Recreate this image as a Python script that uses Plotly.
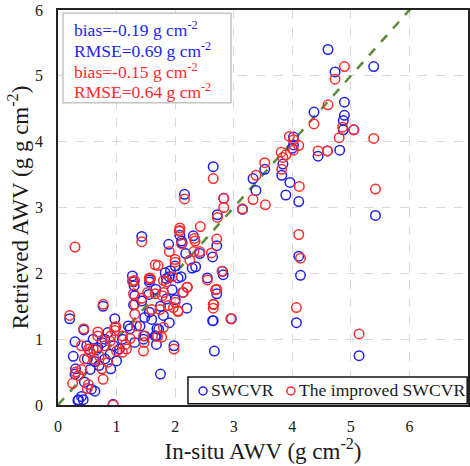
import plotly.graph_objects as go

# SWCVR (blue) points
swcvr_x = [4.61, 4.73, 5.39, 4.89, 4.37, 4.89, 4.87, 4.87, 5.05, 4.81, 4.60, 4.44, 4.02, 4.02, 4.00,
           3.84, 3.82, 3.53, 3.33, 3.38, 3.96, 3.89, 4.11, 5.42, 4.11, 4.14, 4.07, 5.14, 2.65, 2.16,
           2.83, 3.15, 2.72, 2.08, 2.31, 2.71, 1.43, 1.89, 2.11, 2.12, 2.18, 2.42, 2.64, 2.00, 1.92,
           1.83, 2.29, 2.82, 2.81, 1.85, 1.90, 2.05, 2.55, 1.67, 2.13, 1.27, 1.30, 1.56, 2.96, 2.65,
           2.67, 2.71, 2.20, 2.00, 1.85, 1.80, 1.69, 1.68, 1.75, 1.56, 1.29, 1.43, 1.29, 1.56, 1.48,
           1.23, 1.46, 0.77, 0.97, 0.20, 0.44, 0.29, 0.94, 0.34, 0.43, 1.31, 1.55, 0.49, 0.68, 0.66,
           0.80, 0.89, 1.00, 0.26, 0.63, 0.55, 0.29, 0.57, 0.40, 0.35, 0.63, 1.31, 1.48, 1.66, 2.64,
           1.98, 1.68, 1.72, 1.90, 0.60, 0.75, 0.85, 0.70, 0.45, 0.50, 1.10, 1.20, 0.95, 0.30, 0.90,
           0.80, 1.05, 1.40, 1.60, 1.75, 2.10, 2.35, 1.95]
swcvr_y = [5.40, 5.06, 5.14, 4.60, 4.45, 4.40, 4.32, 4.18, 4.18, 3.87, 3.86, 3.78, 4.07, 3.95, 3.90,
           3.66, 3.49, 3.58, 3.44, 3.26, 3.38, 3.19, 3.09, 2.88, 2.26, 1.97, 1.25, 0.75, 3.62, 3.20,
           3.14, 2.97, 2.89, 2.58, 2.57, 2.42, 2.56, 2.44, 2.49, 2.46, 2.30, 2.30, 2.25, 2.11, 2.04,
           2.01, 2.08, 1.98, 2.03, 1.92, 1.95, 1.93, 1.93, 1.76, 1.71, 1.96, 1.81, 1.90, 1.31, 1.28,
           0.82, 1.69, 1.47, 1.60, 1.61, 1.36, 1.16, 1.05, 0.47, 1.87, 1.87, 1.58, 1.52, 1.41, 1.33,
           1.16, 1.00, 1.50, 1.31, 1.31, 1.14, 0.96, 0.01, 0.07, 0.08, 1.66, 1.68, 0.90, 0.87, 0.84,
           1.00, 0.77, 0.67, 0.74, 0.66, 0.54, 0.47, 0.24, 0.13, 0.08, 0.21, 0.95, 1.05, 1.05, 1.28,
           0.90, 0.92, 1.15, 1.25, 1.00, 0.95, 1.10, 0.60, 0.35, 0.70, 1.00, 1.20, 0.90, 0.55, 0.55,
           0.70, 0.85, 1.20, 1.30, 1.50, 1.95, 2.10, 1.75]

# The improved SWCVR (red) points
improved_x = [4.89, 4.73, 4.61, 4.37, 4.86, 5.05, 5.39, 4.80, 4.60, 4.44, 3.95, 4.02, 4.11, 4.02, 3.81,
              3.84, 3.89, 3.82, 3.53, 3.38, 3.33, 3.54, 4.12, 5.42, 4.11, 4.14, 4.07, 5.14, 2.65, 2.16,
              2.83, 2.83, 3.15, 2.72, 2.08, 2.08, 2.43, 2.33, 2.34, 2.71, 1.43, 0.29, 2.11, 1.27, 1.56,
              1.66, 2.07, 1.90, 2.32, 2.42, 2.62, 2.00, 2.00, 1.71, 1.80, 1.85, 1.58, 2.55, 2.21, 2.71,
              2.80, 2.95, 2.69, 2.66, 2.65, 2.05, 2.14, 2.20, 2.00, 1.97, 1.88, 1.80, 1.74, 1.80, 1.56,
              1.31, 1.43, 1.31, 1.31, 1.34, 1.46, 1.47, 0.77, 0.99, 0.20, 0.44, 1.23, 0.94, 0.97, 0.97,
              0.68, 0.68, 0.89, 0.55, 0.52, 1.00, 0.63, 0.40, 0.52, 0.50, 0.77, 1.17, 1.15, 1.46, 1.29,
              1.53, 1.66, 1.78, 1.98, 1.77, 1.70, 2.05, 2.65, 0.30, 0.35, 0.45, 0.80, 0.60, 0.70, 0.90,
              1.10, 0.75, 0.85, 0.40, 0.25, 1.60, 1.95, 2.25, 1.10]
improved_y = [5.14, 4.95, 4.56, 4.27, 4.22, 4.18, 4.05, 4.06, 3.86, 3.86, 4.08, 4.03, 3.94, 3.87, 3.84,
              3.76, 3.80, 3.58, 3.68, 3.49, 3.12, 3.04, 3.32, 3.28, 2.59, 2.23, 1.48, 1.08, 3.44, 3.13,
              3.14, 3.00, 2.98, 2.85, 2.69, 2.65, 2.71, 2.53, 2.49, 2.52, 2.48, 2.40, 2.45, 1.88, 1.93,
              2.13, 2.64, 2.33, 2.33, 2.33, 2.31, 2.21, 2.17, 2.12, 1.89, 1.87, 1.92, 1.90, 1.79, 1.76,
              2.03, 1.31, 1.75, 1.53, 1.47, 1.43, 1.71, 1.79, 1.56, 1.48, 1.51, 1.71, 1.45, 1.18, 1.92,
              1.89, 1.62, 1.53, 1.38, 1.20, 1.05, 0.95, 1.53, 1.19, 1.36, 1.16, 1.01, 0.00, 1.18, 1.13,
              1.11, 1.05, 0.97, 0.80, 0.85, 0.82, 0.69, 0.54, 0.31, 0.25, 0.39, 0.85, 0.92, 0.82, 1.69,
              1.71, 1.69, 1.66, 0.85, 1.03, 1.04, 1.42, 1.53, 0.50, 0.45, 0.70, 0.90, 0.85, 0.75, 1.05,
              1.05, 0.55, 0.65, 0.90, 0.33, 1.45, 1.95, 2.20, 0.80]

series_names = ["SWCVR", "The improved SWCVR"]
stats_lines = ["bias=-0.19 g cm<sup>-2</sup>", "RMSE=0.69 g cm<sup>-2</sup>",
               "bias=-0.15 g cm<sup>-2</sup>", "RMSE=0.64 g cm<sup>-2</sup>"]
x_ticks = [0, 1, 2, 3, 4, 5, 6, 7]
y_ticks = [0, 1, 2, 3, 4, 5, 6]

BLUE = "#1f1fee"
RED = "#ff2a2a"
FONT = "Liberation Serif"
TXT = "#1a1a1a"

fig = go.Figure()

# 1:1 line
fig.add_trace(go.Scatter(x=[0, 7], y=[0, 7], mode="lines",
                         line=dict(color="#5a8a3a", width=2.5, dash="dash"),
                         showlegend=False, hoverinfo="skip"))

for xs, ys, c, n in [(swcvr_x, swcvr_y, BLUE, series_names[0]),
                     (improved_x, improved_y, RED, series_names[1])]:
    fig.add_trace(go.Scatter(x=xs, y=ys, mode="markers", name=n, showlegend=False,
                             marker=dict(symbol="circle-open", size=9.5, color=c,
                                         line=dict(width=1.5, color=c))))

# statistics box
fig.add_shape(type="rect", xref="paper", yref="paper", x0=0.012, x1=0.422, y0=0.765, y1=0.992,
              line=dict(color="#c4c4c4", width=1.5), fillcolor="white", layer="above")
colors = [BLUE, BLUE, RED, RED]
line_y = [0.952, 0.899, 0.846, 0.795]
for t, c, yy in zip(stats_lines, colors, line_y):
    fig.add_annotation(x=0.035, y=yy, xref="paper", yref="paper", xanchor="left", yanchor="middle",
                       text=t, showarrow=False, align="left",
                       font=dict(family=FONT, size=17.5, color=c))

# legend box (drawn by hand to match the compact original)
fig.add_shape(type="rect", xref="paper", yref="paper", x0=0.317, x1=0.998, y0=0.003, y1=0.071,
              line=dict(color="#111111", width=1.5), fillcolor="white", layer="above")
leg_pos = [(0.3537, 0.368), (0.568, 0.582)]
for (cx, tx), c, n in zip(leg_pos, [BLUE, RED], series_names):
    fig.add_shape(type="circle", xref="paper", yref="paper",
                  x0=cx - 0.0098, x1=cx + 0.0098, y0=0.0354 - 0.0101, y1=0.0354 + 0.0101,
                  line=dict(color=c, width=1.5), layer="above")
    fig.add_annotation(x=tx, y=0.037, xref="paper", yref="paper", xanchor="left", yanchor="middle",
                       text=n, showarrow=False, font=dict(family=FONT, size=17.6, color=TXT))

axis_common = dict(showgrid=True, gridcolor="#d9d9d9", griddash="dash", gridwidth=1,
                   zeroline=False, showline=True, linecolor="#222222", linewidth=1.5,
                   mirror=True, ticks="outside", tickcolor="rgba(0,0,0,0)",
                   tickfont=dict(family=FONT, size=16, color=TXT))

fig.update_xaxes(range=[0, 7], tickvals=x_ticks, ticklen=6, **axis_common,
                 title=dict(text="In-situ AWV (g cm<sup>-2</sup>)",
                            font=dict(family=FONT, size=23, color=TXT), standoff=1))
fig.update_yaxes(range=[0, 6], tickvals=y_ticks, ticklen=10, **axis_common,
                 title=dict(text="Retrieved AWV (g g cm<sup>-2</sup>)",
                            font=dict(family=FONT, size=23, color=TXT), standoff=0))

fig.update_layout(
    width=470, height=466,
    margin=dict(l=58, r=2, t=10, b=61, autoexpand=False),
    plot_bgcolor="white", paper_bgcolor="white",
    showlegend=False,
)

fig.write_html("out.html", config={"displayModeBar": False},
               post_script="document.body.style.margin='0px';")
